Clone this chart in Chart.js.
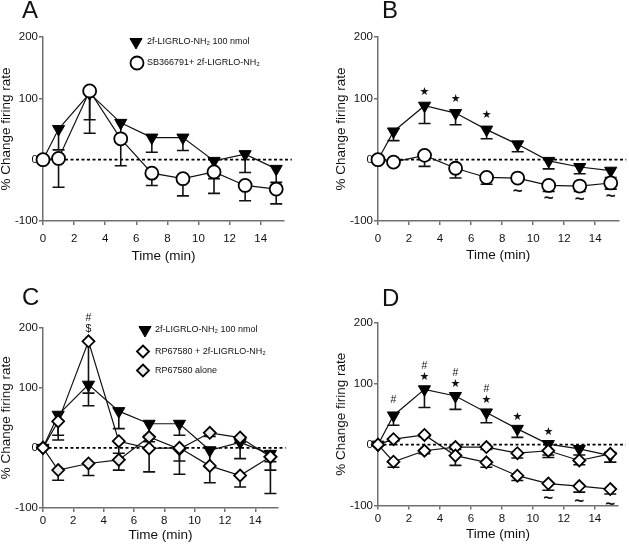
<!DOCTYPE html>
<html>
<head>
<meta charset="utf-8">
<script src="https://cdn.jsdelivr.net/npm/chart.js@4.4.0/dist/chart.umd.min.js"></script>
<style>
  body { margin: 0; background: #fff; }
  #wrap { position: relative; width: 629px; height: 549px; overflow: hidden; }
  canvas { position: absolute; }
</style>
</head>
<body>
<div id="wrap">
  <canvas id="panelA" width="314" height="275" style="left:0;top:0"></canvas>
  <canvas id="panelB" width="314" height="275" style="left:315px;top:0"></canvas>
  <canvas id="panelC" width="314" height="274" style="left:0;top:275px"></canvas>
  <canvas id="panelD" width="314" height="274" style="left:315px;top:275px"></canvas>
</div>
<script>
// time points (min) and axis ticks
const TIME = [0, 1, 3, 5, 7, 9, 11, 13, 15];
const X_TICKS = [0, 2, 4, 6, 8, 10, 12, 14];
const Y_TICKS = [-100, 0, 100, 200];

const LBL_AGONIST = '2f-LIGRLO-NH₂ 100 nmol';
const LBL_SB = 'SB366791+ 2f-LIGRLO-NH₂';
const LBL_RP_AG = 'RP67580 + 2f-LIGRLO-NH₂';
const LBL_RP = 'RP67580 alone';

// panel A (mean % change, SEM drawn downward)
const A_AGONIST = [0, 50, 108, 60, 36, 36, -2, 9, -15];
const A_AGONIST_SEM = [0, 34, 43, 30, 24, 21, 29, 30, 22];
const A_SB = [0, 2, 112, 34, -22, -31, -20, -42, -48];
const A_SB_SEM = [0, 47, 69, 44, 20, 28, 35, 25, 24];

// panel B
const B_AGONIST = [0, 46, 88, 76, 49, 25, -2, -12, -18];
const B_AGONIST_SEM = [0, 15, 29, 19, 15, 12, 13, 11, 11];
const B_SB = [0, -4, 7, -14, -29, -30, -42, -43, -38];
const B_SB_SEM = [0, 3, 18, 16, 11, 5, 10, 9, 10];
const B_STAR = [3, 5, 7];
const B_TILDE = [9, 11, 13, 15];

// panel C
const C_AGONIST = [0, 55, 105, 61, 40, 40, -4, 9, -10];
const C_AGONIST_SEM = [0, 34, 35, 29, 20, 19, 28, 27, 27];
const C_RP_AG = [0, 44, 177, 11, -1, 0, -30, -46, -15];
const C_RP_AG_SEM = [0, 31, 86, 20, 39, 44, 28, 19, 61];
const C_RP = [0, -37, -26, -20, 18, -2, 25, 17, -15];
const C_RP_SEM = [0, 17, 20, 17, 8, 20, 6, 8, 8];
const C_HASH = [3];

// panel D
const D_AGONIST = [0, 48, 91, 80, 53, 26, 1, -7, -18];
const D_AGONIST_SEM = [0, 16, 30, 22, 17, 14, 18, 10, 11];
const D_FALL = [0, 9, 16, -18, -29, -51, -64, -68, -73];
const D_FALL_SEM = [0, 3, 3, 16, 8, 8, 11, 10, 8];
const D_FLAT = [0, -28, -10, -4, -4, -14, -10, -26, -15];
const D_FLAT_SEM = [0, 9, 5, 4, 4, 8, 11, 7, 14];
const D_HASH = [1, 3, 5, 7];
const D_STAR = [3, 5, 7, 9, 11];
const D_TILDE = [11, 13, 15];

const AXIS = '#707070';
const INK = '#111';
const FONT = '"Liberation Sans", Arial, sans-serif';
Chart.defaults.font.family = FONT;
Chart.defaults.color = INK;

const TRI = { pointStyle: 'triangle', rotation: 180, radius: 7, fill: '#000', bw: 1 };
const CIRC = { pointStyle: 'circle', rotation: 0, radius: 6.5, fill: '#fff', bw: 1.8 };
const DIAM = { pointStyle: 'rectRot', rotation: 0, radius: 6, fill: '#fff', bw: 1.8 };
const DIAM_GREY = { pointStyle: 'rectRot', rotation: 0, radius: 6, fill: '#ececec', bw: 1.8 };

function series(label, values, sem, st, order) {
  return {
    label: label,
    data: TIME.map((t, i) => ({ x: t, y: values[i] })),
    sem: sem,
    order: order,
    clip: false,
    borderColor: INK,
    borderWidth: 1.2,
    pointStyle: st.pointStyle,
    rotation: st.rotation,
    pointRadius: st.radius,
    pointHoverRadius: st.radius,
    pointBackgroundColor: st.fill,
    pointBorderColor: '#000',
    pointBorderWidth: st.bw
  };
}

function makePanel(id, cfg, datasets) {
  const canvas = document.getElementById(id);
  const W = canvas.width, H = canvas.height;

  const decor = {
    id: 'decor',
    beforeDatasetsDraw(chart) {
      const { ctx, scales: { x, y } } = chart;
      ctx.save();
      // dashed baseline at 0
      ctx.strokeStyle = '#000';
      ctx.lineWidth = 1.6;
      ctx.setLineDash([3, 2.5]);
      ctx.beginPath();
      ctx.moveTo(x.getPixelForValue(0), y.getPixelForValue(0));
      ctx.lineTo(x.getPixelForValue(16), y.getPixelForValue(0));
      ctx.stroke();
      ctx.setLineDash([]);
      // error bars (downward only)
      ctx.strokeStyle = INK;
      chart.data.datasets.forEach((ds, i) => {
        const meta = chart.getDatasetMeta(i);
        ds.sem.forEach((s, j) => {
          if (!s) return;
          const pt = meta.data[j];
          const yl = y.getPixelForValue(ds.data[j].y - s);
          ctx.beginPath();
          ctx.moveTo(pt.x, pt.y);
          ctx.lineTo(pt.x, yl);
          ctx.moveTo(pt.x - 6, yl);
          ctx.lineTo(pt.x + 6, yl);
          ctx.stroke();
        });
      });
      ctx.restore();
    },
    afterDraw(chart) {
      const { ctx, chartArea: area } = chart;
      ctx.save();
      ctx.fillStyle = INK;
      // panel letter
      ctx.font = '24px ' + FONT;
      ctx.textAlign = 'left';
      ctx.textBaseline = 'alphabetic';
      ctx.fillText(cfg.letter, cfg.letterX, cfg.letterY);
      // axis titles
      ctx.font = '13.5px ' + FONT;
      ctx.textAlign = 'center';
      ctx.textBaseline = 'middle';
      ctx.fillText('Time (min)', (area.left + area.right) / 2, area.bottom + cfg.xTitleDy);
      ctx.save();
      ctx.translate(area.left - 37, (area.top + area.bottom) / 2);
      ctx.rotate(-Math.PI / 2);
      ctx.fillText('% Change firing rate', 0, 0);
      ctx.restore();
      // legend
      (cfg.legend || []).forEach(item => {
        ctx.fillStyle = item.st.fill;
        ctx.strokeStyle = '#000';
        ctx.lineWidth = item.st.bw;
        Chart.helpers.drawPoint(ctx, {
          pointStyle: item.st.pointStyle, rotation: item.st.rotation,
          radius: item.st.radius, borderWidth: item.st.bw
        }, item.mx, item.y);
        ctx.fillStyle = INK;
        ctx.font = '9px ' + FONT;
        ctx.textAlign = 'left';
        ctx.textBaseline = 'middle';
        ctx.fillText(item.label, cfg.legendTextX, item.y);
      });
      // significance symbols
      (cfg.marks || []).forEach(m => {
        const meta = chart.getDatasetMeta(m.ds);
        m.at.forEach(t => {
          const pt = meta.data[TIME.indexOf(t)];
          const dy = typeof m.dy === 'function' ? m.dy(t) : m.dy;
          ctx.font = m.font;
          ctx.textAlign = 'center';
          ctx.textBaseline = 'middle';
          ctx.fillText(m.sym, pt.x, pt.y + dy);
        });
      });
      ctx.restore();
    }
  };

  const gridOpts = { drawOnChartArea: false, drawTicks: true, tickLength: 4, color: AXIS, lineWidth: 1.5 };
  return new Chart(canvas, {
    type: 'line',
    data: { datasets: datasets },
    options: {
      responsive: false,
      animation: false,
      devicePixelRatio: 1,
      events: [],
      layout: { padding: { left: 0, top: cfg.top, right: W - cfg.right, bottom: 0 } },
      scales: {
        x: {
          type: 'linear', min: 0, max: 15.5,
          afterBuildTicks: s => { s.ticks = X_TICKS.map(v => ({ value: v })); },
          afterFit: s => { s.height = H - cfg.bottom; },
          grid: gridOpts,
          border: { color: AXIS, width: 1.5 },
          ticks: { padding: cfg.xPad, font: { size: 11.5 }, maxRotation: 0, color: INK }
        },
        y: {
          type: 'linear', min: -100, max: 200,
          afterBuildTicks: s => { s.ticks = Y_TICKS.map(v => ({ value: v })); },
          afterFit: s => { s.width = cfg.left; },
          grid: gridOpts,
          border: { color: AXIS, width: 1.5 },
          ticks: { padding: 1, font: { size: 11.5 }, color: INK }
        }
      },
      plugins: { legend: { display: false }, tooltip: { enabled: false } }
    },
    plugins: [decor]
  });
}

const STAR_FONT = '11px "DejaVu Sans"';
const HASH_FONT = '10.5px ' + FONT;
const TILDE_FONT = 'bold 17px ' + FONT;

makePanel('panelA', {
  left: 43, right: 284, top: 37, bottom: 221, xPad: 6.5, xTitleDy: 35,
  letter: 'A', letterX: 22, letterY: 18,
  legendTextX: 147,
  legend: [
    { label: LBL_AGONIST, st: TRI, mx: 136, y: 42 },
    { label: LBL_SB, st: CIRC, mx: 137, y: 63 }
  ]
}, [
  series(LBL_AGONIST, A_AGONIST, A_AGONIST_SEM, TRI, 2),
  series(LBL_SB, A_SB, A_SB_SEM, CIRC, 1)
]);

makePanel('panelB', {
  left: 63, right: 303.5, top: 37, bottom: 221, xPad: 6.5, xTitleDy: 34,
  letter: 'B', letterX: 67, letterY: 18,
  marks: [
    { sym: '★', ds: 0, at: B_STAR, dy: -14, font: STAR_FONT },
    { sym: '~', ds: 1, at: B_TILDE, dy: 13, font: TILDE_FONT }
  ]
}, [
  series(LBL_AGONIST, B_AGONIST, B_AGONIST_SEM, TRI, 2),
  series(LBL_SB, B_SB, B_SB_SEM, CIRC, 1)
]);

makePanel('panelC', {
  left: 43, right: 278, top: 52.5, bottom: 233, xPad: 2, xTitleDy: 27,
  letter: 'C', letterX: 22, letterY: 30,
  legendTextX: 155,
  legend: [
    { label: LBL_AGONIST, st: TRI, mx: 145, y: 55 },
    { label: LBL_RP_AG, st: DIAM, mx: 143, y: 76.5 },
    { label: LBL_RP, st: DIAM_GREY, mx: 143, y: 95.5 }
  ],
  marks: [
    { sym: '$', ds: 1, at: C_HASH, dy: -12, font: HASH_FONT },
    { sym: '#', ds: 1, at: C_HASH, dy: -23, font: HASH_FONT }
  ]
}, [
  series(LBL_AGONIST, C_AGONIST, C_AGONIST_SEM, TRI, 3),
  series(LBL_RP_AG, C_RP_AG, C_RP_AG_SEM, DIAM, 1),
  series(LBL_RP, C_RP, C_RP_SEM, DIAM_GREY, 2)
]);

makePanel('panelD', {
  left: 63, right: 303, top: 48, bottom: 230.5, xPad: 2, xTitleDy: 28.5,
  letter: 'D', letterX: 67, letterY: 30.5,
  marks: [
    { sym: '★', ds: 0, at: D_STAR, dy: -12, font: STAR_FONT },
    { sym: '#', ds: 0, at: D_HASH, dy: t => (D_STAR.includes(t) ? -23 : -15), font: HASH_FONT },
    { sym: '~', ds: 1, at: D_TILDE, dy: 15, font: TILDE_FONT }
  ]
}, [
  series(LBL_AGONIST, D_AGONIST, D_AGONIST_SEM, TRI, 3),
  series('Diamond series 1', D_FALL, D_FALL_SEM, DIAM, 1),
  series('Diamond series 2', D_FLAT, D_FLAT_SEM, DIAM, 2)
]);
</script>
</body>
</html>
